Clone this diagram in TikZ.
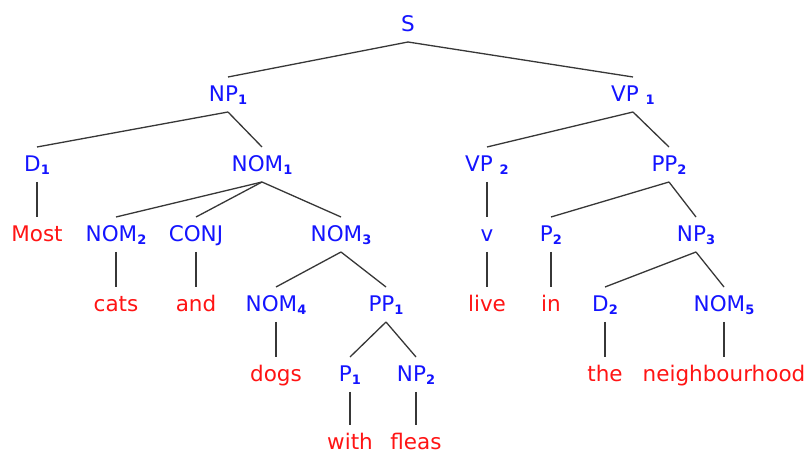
\documentclass[tikz,border=0pt]{standalone}
\usepackage{fontspec}
\setmainfont{DejaVu Sans}
\definecolor{catblue}{RGB}{20,20,255}
\definecolor{wordred}{RGB}{255,20,20}
\definecolor{edgegray}{RGB}{55,55,55}
\newcommand\sbs[1]{\raisebox{-3pt}{\fontsize{13}{13}\selectfont\bfseries #1}}
\tikzset{
  cat/.style={anchor=base, inner sep=0pt, text=catblue, font=\fontsize{21.5}{21.5}\selectfont},
  word/.style={anchor=base, inner sep=0pt, text=wordred, font=\fontsize{21.5}{21.5}\selectfont},
  edge/.style={draw=edgegray, line width=1.3pt}
}
\newcommand\br[2]{\draw[edge] ([yshift=-10pt]#1.base) -- ([yshift=25pt]#2.base);}
\begin{document}
\begin{tikzpicture}[x=1pt,y=-1pt]
\useasboundingbox[fill=white] (0,0) rectangle (807,454);
% level 0
\node[cat] (S) at (408,32) {S};
% level 1
\node[cat] (NP1) at (228,102) {NP\sbs{1}};
\node[cat] (VP1) at (633,102) {VP \sbs{1}};
% level 2
\node[cat] (D1) at (37,172) {D\sbs{1}};
\node[cat] (NOM1) at (262,172) {NOM\sbs{1}};
\node[cat] (VP2) at (487,172) {VP \sbs{2}};
\node[cat] (PP2) at (669,172) {PP\sbs{2}};
% level 3
\node[word] (most) at (37,242) {Most};
\node[cat] (NOM2) at (116,242) {NOM\sbs{2}};
\node[cat] (CONJ) at (196,242) {CONJ};
\node[cat] (NOM3) at (341,242) {NOM\sbs{3}};
\node[cat] (v) at (487,242) {v};
\node[cat] (P2) at (551,242) {P\sbs{2}};
\node[cat] (NP3) at (696,242) {NP\sbs{3}};
% level 4
\node[word] (cats) at (116,312) {cats};
\node[word] (and) at (196,312) {and};
\node[cat] (NOM4) at (276,312) {NOM\sbs{4}};
\node[cat] (PP1) at (386,312) {PP\sbs{1}};
\node[word] (live) at (487,312) {live};
\node[word] (in) at (551,312) {in};
\node[cat] (D2) at (605,312) {D\sbs{2}};
\node[cat] (NOM5) at (724,312) {NOM\sbs{5}};
% level 5
\node[word] (dogs) at (276,382) {dogs};
\node[cat] (P1) at (350,382) {P\sbs{1}};
\node[cat] (NP2) at (416,382) {NP\sbs{2}};
\node[word] (the) at (605,382) {the};
\node[word] (neigh) at (724,382) {neighbourhood};
% level 6
\node[word] (with) at (350,450) {with};
\node[word] (fleas) at (416,450) {fleas};
% edges
\br{S}{NP1}\br{S}{VP1}
\br{NP1}{D1}\br{NP1}{NOM1}
\br{VP1}{VP2}\br{VP1}{PP2}
\br{D1}{most}
\br{NOM1}{NOM2}\br{NOM1}{CONJ}\br{NOM1}{NOM3}
\br{VP2}{v}
\br{PP2}{P2}\br{PP2}{NP3}
\br{NOM2}{cats}\br{CONJ}{and}
\br{NOM3}{NOM4}\br{NOM3}{PP1}
\br{v}{live}\br{P2}{in}
\br{NP3}{D2}\br{NP3}{NOM5}
\br{NOM4}{dogs}
\br{PP1}{P1}\br{PP1}{NP2}
\br{D2}{the}\br{NOM5}{neigh}
\br{P1}{with}\br{NP2}{fleas}
\end{tikzpicture}
\end{document}
